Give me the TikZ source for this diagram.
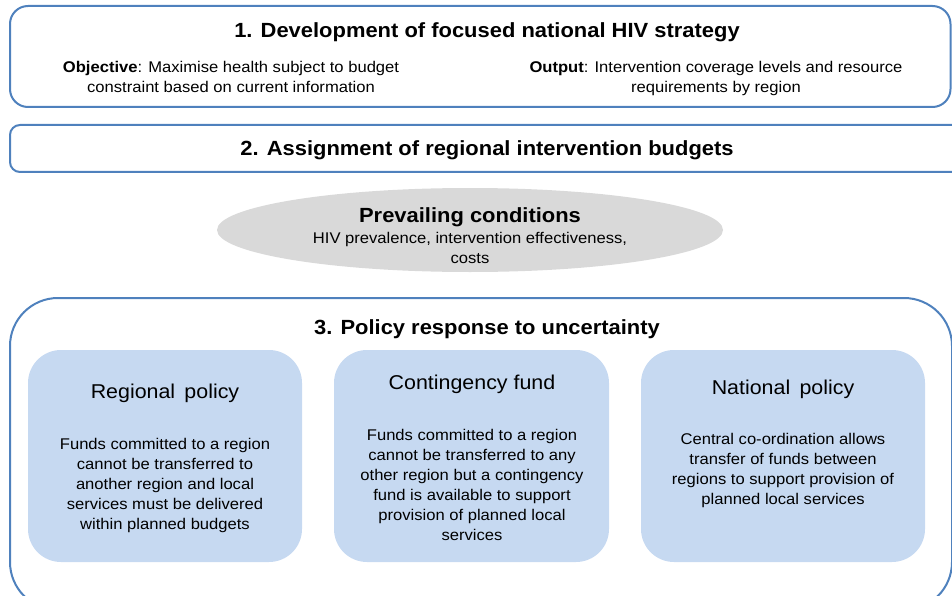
\documentclass[tikz,border=0pt]{standalone}
\usepackage{fontspec}
\setmainfont{Liberation Sans}[FakeStretch=1.07]
\usetikzlibrary{shapes.geometric}
\definecolor{frameblue}{HTML}{4F81BD}
\definecolor{boxfill}{HTML}{C6D9F1}
\definecolor{ellfill}{HTML}{D9D9D9}
\begin{document}
\begin{tikzpicture}[x=1pt,y=-1pt,
  frame/.style={draw=frameblue,line width=2pt},
  title/.style={font=\fontsize{20.5}{24}\selectfont\bfseries,anchor=base},
  body/.style={font=\fontsize{15.5}{20}\selectfont,align=center,anchor=north},
  head/.style={font=\fontsize{20}{24}\selectfont,anchor=base},
  policy/.style={fill=boxfill,rounded corners=33pt}]
\useasboundingbox (0,0) rectangle (952,596);
% frames
\draw[frame,rounded corners=18pt] (10,6) rectangle (950.5,107);
\draw[frame,rounded corners=10pt] (10,125) rectangle (966,172);
\draw[frame,rounded corners=48pt] (10,298) rectangle (952,610);
% step 1
\node[title] (t1) at (487,38) {1. Development of focused national HIV strategy};
\node[body] (obj) at (231,58) {\textbf{Objective}: Maximise health subject to budget\\constraint based on current information};
\node[body] (out) at (716,58) {\textbf{Output}: Intervention coverage levels and resource\\requirements by region};
% step 2
\node[title] (t2) at (487,156) {2. Assignment of regional intervention budgets};
% ellipse
\node[ellipse,fill=ellfill,minimum width=506pt,minimum height=84pt] (ell) at (470,230) {};
\node[title] (pc) at (470,222) {Prevailing conditions};
\node[body] (pcb) at (470,229) {HIV prevalence, intervention effectiveness,\\costs};
% step 3
\node[title] (t3) at (487,334) {3. Policy response to uncertainty};
\path[policy] (28,350) rectangle (302,562);
\path[policy] (334,350) rectangle (609,562);
\path[policy] (641,350) rectangle (925,562);
\node[head] (hA) at (165,398) {Regional\, policy};
\node[body] (bA) at (165,435) {Funds committed to a region\\cannot be transferred to\\another region and local\\services must be delivered\\within planned budgets};
\node[head] (hB) at (472,389) {Contingency fund};
\node[body] (bB) at (472,426) {Funds committed to a region\\cannot be transferred to any\\other region but a contingency\\fund is available to support\\provision of planned local\\services};
\node[head] (hC) at (783,394) {National\, policy};
\node[body] (bC) at (783,430) {Central co-ordination allows\\transfer of funds between\\regions to support provision of\\planned local services};
\end{tikzpicture}
\end{document}
